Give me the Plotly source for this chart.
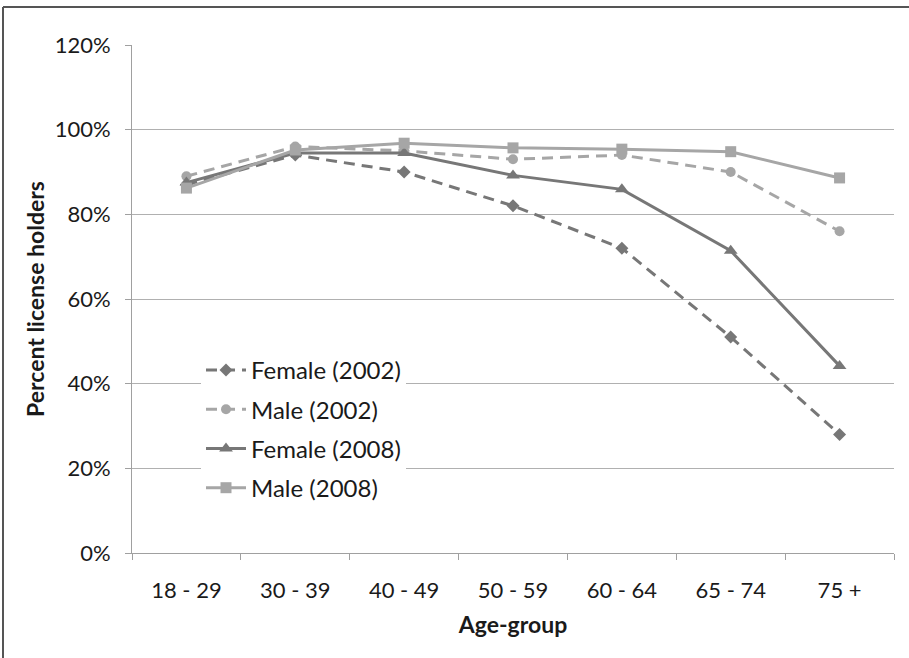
import plotly.graph_objects as go

age_groups = ["18 - 29", "30 - 39", "40 - 49", "50 - 59", "60 - 64", "65 - 74", "75 +"]
female_2002 = [87, 94, 90, 82, 72, 51, 28]
male_2002 = [89, 96, 95, 93, 94, 90, 76]
female_2008 = [87.5, 94.5, 94.5, 89.2, 85.9, 71.4, 44.2]
male_2008 = [86.2, 95.2, 96.8, 95.7, 95.4, 94.8, 88.6]
y_ticks = [0, 20, 40, 60, 80, 100, 120]
y_tick_labels = ["0%", "20%", "40%", "60%", "80%", "100%", "120%"]

DARK = "#777777"
LIGHT = "#a6a6a6"
FONT = "Lato"
TXT = "#1a1a1a"

series = [
    ("Female (2002)", female_2002, DARK, "dash", "diamond", 10),
    ("Male (2002)", male_2002, LIGHT, "dash", "circle", 10),
    ("Female (2008)", female_2008, DARK, "solid", "triangle-up", 12),
    ("Male (2008)", male_2008, LIGHT, "solid", "square", 11),
]

fig = go.Figure()
for i, (name, vals, col, dash, sym, size) in enumerate(series):
    fig.add_trace(go.Scatter(
        x=age_groups, y=vals, name=name, mode="lines+markers",
        line=dict(color=col, width=3, dash="11px,7px" if dash == "dash" else "solid"),
        marker=dict(symbol=sym, size=size, color=col),
        legendgroup=f"g{i}",
    ))

# figure-pixel helpers for paper coordinates (plot area 132..894 x 45..553)
def px(x):
    return (x - 132) / 762

def py(y):
    return (553 - y) / 508

fig.update_layout(
    width=909, height=658,
    margin=dict(l=132, r=15, t=45, b=105),
    paper_bgcolor="white", plot_bgcolor="white",
    font=dict(family=FONT, size=22, color=TXT),
    showlegend=True,
    legend=dict(x=px(201), y=py(348), xanchor="left", yanchor="top",
                bgcolor="white", font=dict(size=24, family=FONT, color=TXT),
                tracegroupgap=5, itemwidth=40),
    xaxis=dict(
        type="category", range=[-0.5, 6.5], tickson="boundaries",
        ticks="outside", ticklen=6, tickcolor="#a0a0a0",
        showline=True, linecolor="#a0a0a0", linewidth=1,
        showgrid=False, ticklabelstandoff=18,
        title=dict(text="<b>Age-group</b>", standoff=14, font=dict(size=23, family=FONT, color=TXT)),
        tickfont=dict(size=22, family=FONT, color=TXT),
    ),
    yaxis=dict(
        range=[0, 120], tickvals=y_ticks, ticktext=y_tick_labels,
        ticks="outside", ticklen=6, tickcolor="#a0a0a0",
        showline=True, linecolor="#a0a0a0", linewidth=1,
        showgrid=True, gridcolor="#b0b0b0", gridwidth=1,
        zeroline=False, ticklabelstandoff=10,
        title=dict(text="<b>Percent license holders</b>", standoff=3, font=dict(size=23, family=FONT, color=TXT)),
        tickfont=dict(size=22, family=FONT, color=TXT),
    ),
    shapes=[
        dict(type="line", xref="paper", yref="paper",
             x0=px(3), x1=px(930), y0=py(7), y1=py(7),
             line=dict(color="#555555", width=2), layer="above"),
        dict(type="line", xref="paper", yref="paper",
             x0=px(3), x1=px(3), y0=py(7), y1=py(700),
             line=dict(color="#555555", width=2), layer="above"),
    ],
)

fig.write_html("out.html")
